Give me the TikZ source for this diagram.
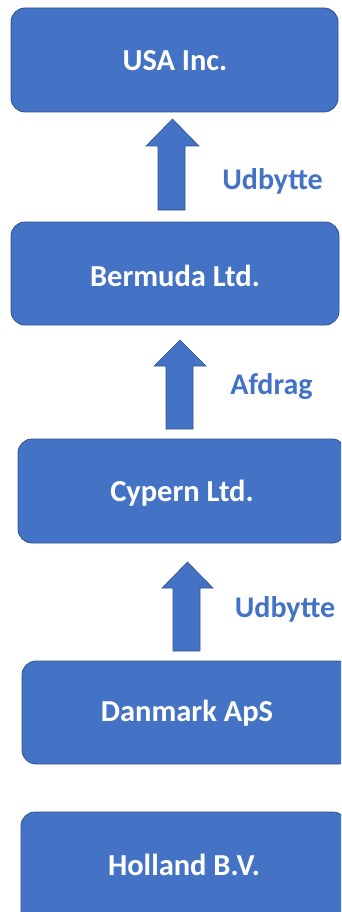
\documentclass[tikz,border=0pt]{standalone}
\usepackage{fontspec}
\setmainfont{Carlito}
\definecolor{boxblue}{HTML}{4472C4}
\definecolor{boxedge}{HTML}{2F528F}
\begin{document}
\begin{tikzpicture}[x=1pt,y=-1pt,
  entity/.style={draw=boxedge,line width=0.8pt,fill=boxblue,rounded corners=14pt},
  entitytext/.style={text=white,font=\fontsize{30.5}{34}\selectfont\bfseries},
  flowarrow/.style={draw=boxedge,line width=0.6pt,fill=boxblue},
  flowlabel/.style={text=boxblue,font=\fontsize{30}{34}\selectfont\bfseries}]
\useasboundingbox (0,0) rectangle (341,912);
\begin{scope}
\clip (0,0) rectangle (341,912);
% boxes
\draw[entity] (11,8) rectangle (338,112);
\node[entitytext] (usa) at (175,61) {USA Inc.};
\draw[entity] (11,222) rectangle (339,325);
\node[entitytext] (bermuda) at (175,276) {Bermuda Ltd.};
\draw[entity] (18,439) rectangle (346,543);
\node[entitytext] (cypern) at (182,493) {Cypern Ltd.};
\draw[entity] (22,661) rectangle (352,764);
\node[entitytext] (danmark) at (187,713) {Danmark ApS};
\draw[entity] (21,812) rectangle (347,935);
\node[entitytext] (holland) at (184,865) {Holland B.V.};
% block arrows
\draw[flowarrow] (172.5,119) -- (199,146) -- (185,146) -- (185,210) -- (158,210) -- (158,146) -- (146,146) -- cycle;
\draw[flowarrow] (180,340) -- (206,366) -- (193,366) -- (193,429) -- (166,429) -- (166,366) -- (154,366) -- cycle;
\draw[flowarrow] (187.5,562) -- (213,588) -- (200,588) -- (200,651) -- (173,651) -- (173,588) -- (162,588) -- cycle;
% labels
\node[flowlabel] (l1) at (272.5,181) {Udbytte};
\node[flowlabel] (l2) at (271.5,387) {Afdrag};
\node[flowlabel] (l3) at (285,609) {Udbytte};
\end{scope}
\end{tikzpicture}
\end{document}
